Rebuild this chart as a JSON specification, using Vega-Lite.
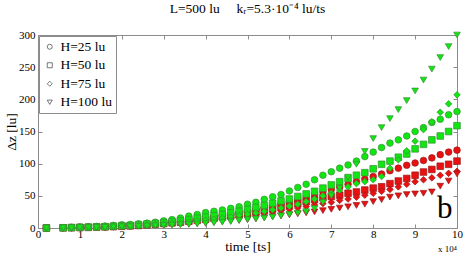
{
"$schema": "https://vega.github.io/schema/vega-lite/v6.json",
"width": 419, "height": 193,
"autosize": "none",
"padding": {"left": 38, "top": 35, "right": 6, "bottom": 25},
"background": "white",
"config": {"view": {"stroke": "#8c8c8c", "strokeWidth": 1}, "font": "Liberation Serif"},
"title": {"text": "L=500 lu\u00a0\u00a0\u00a0\u00a0\u00a0kᵣ=5.3·10⁻⁴ lu/ts", "font": "Liberation Serif", "fontSize": 13.5, "fontWeight": "normal", "color": "#000", "offset": 14, "anchor": "middle"},
"data": {"values": [
{"t":0.2,"s":"25","k":"r","v":0},{"t":0.6,"s":"25","k":"r","v":0.3},{"t":0.8,"s":"25","k":"r","v":0.6},{"t":1,"s":"25","k":"r","v":1},{"t":1.2,"s":"25","k":"r","v":1.2},{"t":1.4,"s":"25","k":"r","v":1.6},{"t":1.6,"s":"25","k":"r","v":2},{"t":1.8,"s":"25","k":"r","v":2.5},{"t":2,"s":"25","k":"r","v":3},{"t":2.2,"s":"25","k":"r","v":3.8},{"t":2.4,"s":"25","k":"r","v":4.5},{"t":2.6,"s":"25","k":"r","v":5.5},{"t":2.8,"s":"25","k":"r","v":6.5},{"t":3,"s":"25","k":"r","v":7.5},{"t":3.2,"s":"25","k":"r","v":8.5},{"t":3.4,"s":"25","k":"r","v":10},{"t":3.6,"s":"25","k":"r","v":11.5},{"t":3.8,"s":"25","k":"r","v":13},{"t":4,"s":"25","k":"r","v":15},{"t":4.2,"s":"25","k":"r","v":17},{"t":4.4,"s":"25","k":"r","v":19},{"t":4.6,"s":"25","k":"r","v":21},{"t":4.8,"s":"25","k":"r","v":23.5},{"t":5,"s":"25","k":"r","v":26},{"t":5.2,"s":"25","k":"r","v":29},{"t":5.4,"s":"25","k":"r","v":32},{"t":5.6,"s":"25","k":"r","v":35},{"t":5.8,"s":"25","k":"r","v":38},{"t":6,"s":"25","k":"r","v":41},{"t":6.2,"s":"25","k":"r","v":44},{"t":6.4,"s":"25","k":"r","v":48},{"t":6.6,"s":"25","k":"r","v":52},{"t":6.8,"s":"25","k":"r","v":56},{"t":7,"s":"25","k":"r","v":60},{"t":7.2,"s":"25","k":"r","v":64},{"t":7.4,"s":"25","k":"r","v":68},{"t":7.6,"s":"25","k":"r","v":72},{"t":7.8,"s":"25","k":"r","v":76},{"t":8,"s":"25","k":"r","v":80},{"t":8.2,"s":"25","k":"r","v":84},{"t":8.4,"s":"25","k":"r","v":89},{"t":8.6,"s":"25","k":"r","v":93},{"t":8.8,"s":"25","k":"r","v":97.5},{"t":9,"s":"25","k":"r","v":101},{"t":9.2,"s":"25","k":"r","v":105},{"t":9.4,"s":"25","k":"r","v":109},{"t":9.6,"s":"25","k":"r","v":114},{"t":9.8,"s":"25","k":"r","v":118},{"t":10,"s":"25","k":"r","v":121},
{"t":0.2,"s":"50","k":"r","v":0},{"t":0.6,"s":"50","k":"r","v":0.3},{"t":0.8,"s":"50","k":"r","v":0.5},{"t":1,"s":"50","k":"r","v":0.8},{"t":1.2,"s":"50","k":"r","v":1},{"t":1.4,"s":"50","k":"r","v":1.4},{"t":1.6,"s":"50","k":"r","v":1.8},{"t":1.8,"s":"50","k":"r","v":2.2},{"t":2,"s":"50","k":"r","v":2.7},{"t":2.2,"s":"50","k":"r","v":3.3},{"t":2.4,"s":"50","k":"r","v":4},{"t":2.6,"s":"50","k":"r","v":5},{"t":2.8,"s":"50","k":"r","v":6},{"t":3,"s":"50","k":"r","v":7},{"t":3.2,"s":"50","k":"r","v":8},{"t":3.4,"s":"50","k":"r","v":9},{"t":3.6,"s":"50","k":"r","v":10.5},{"t":3.8,"s":"50","k":"r","v":12},{"t":4,"s":"50","k":"r","v":13.5},{"t":4.2,"s":"50","k":"r","v":15},{"t":4.4,"s":"50","k":"r","v":17},{"t":4.6,"s":"50","k":"r","v":19},{"t":4.8,"s":"50","k":"r","v":21},{"t":5,"s":"50","k":"r","v":23},{"t":5.2,"s":"50","k":"r","v":25},{"t":5.4,"s":"50","k":"r","v":27.5},{"t":5.6,"s":"50","k":"r","v":30},{"t":5.8,"s":"50","k":"r","v":32.5},{"t":6,"s":"50","k":"r","v":35},{"t":6.2,"s":"50","k":"r","v":38},{"t":6.4,"s":"50","k":"r","v":41},{"t":6.6,"s":"50","k":"r","v":44},{"t":6.8,"s":"50","k":"r","v":47},{"t":7,"s":"50","k":"r","v":49},{"t":7.2,"s":"50","k":"r","v":51},{"t":7.4,"s":"50","k":"r","v":54},{"t":7.6,"s":"50","k":"r","v":56},{"t":7.8,"s":"50","k":"r","v":59},{"t":8,"s":"50","k":"r","v":62},{"t":8.2,"s":"50","k":"r","v":64},{"t":8.4,"s":"50","k":"r","v":69},{"t":8.6,"s":"50","k":"r","v":73},{"t":8.8,"s":"50","k":"r","v":77},{"t":9,"s":"50","k":"r","v":82},{"t":9.2,"s":"50","k":"r","v":87},{"t":9.4,"s":"50","k":"r","v":91},{"t":9.6,"s":"50","k":"r","v":96},{"t":9.8,"s":"50","k":"r","v":99},{"t":10,"s":"50","k":"r","v":104},
{"t":0.2,"s":"75","k":"r","v":0},{"t":0.6,"s":"75","k":"r","v":0.2},{"t":0.8,"s":"75","k":"r","v":0.4},{"t":1,"s":"75","k":"r","v":0.7},{"t":1.2,"s":"75","k":"r","v":0.9},{"t":1.4,"s":"75","k":"r","v":1.2},{"t":1.6,"s":"75","k":"r","v":1.6},{"t":1.8,"s":"75","k":"r","v":2},{"t":2,"s":"75","k":"r","v":2.4},{"t":2.2,"s":"75","k":"r","v":3},{"t":2.4,"s":"75","k":"r","v":3.6},{"t":2.6,"s":"75","k":"r","v":4.3},{"t":2.8,"s":"75","k":"r","v":5},{"t":3,"s":"75","k":"r","v":6},{"t":3.2,"s":"75","k":"r","v":7},{"t":3.4,"s":"75","k":"r","v":8},{"t":3.6,"s":"75","k":"r","v":9},{"t":3.8,"s":"75","k":"r","v":10},{"t":4,"s":"75","k":"r","v":11.5},{"t":4.2,"s":"75","k":"r","v":13},{"t":4.4,"s":"75","k":"r","v":14.5},{"t":4.6,"s":"75","k":"r","v":16},{"t":4.8,"s":"75","k":"r","v":17.5},{"t":5,"s":"75","k":"r","v":19},{"t":5.2,"s":"75","k":"r","v":21},{"t":5.4,"s":"75","k":"r","v":23},{"t":5.6,"s":"75","k":"r","v":25},{"t":5.8,"s":"75","k":"r","v":27},{"t":6,"s":"75","k":"r","v":29},{"t":6.2,"s":"75","k":"r","v":31},{"t":6.4,"s":"75","k":"r","v":33.5},{"t":6.6,"s":"75","k":"r","v":36},{"t":6.8,"s":"75","k":"r","v":38},{"t":7,"s":"75","k":"r","v":40},{"t":7.2,"s":"75","k":"r","v":43},{"t":7.4,"s":"75","k":"r","v":45},{"t":7.6,"s":"75","k":"r","v":48},{"t":7.8,"s":"75","k":"r","v":51},{"t":8,"s":"75","k":"r","v":54},{"t":8.2,"s":"75","k":"r","v":57},{"t":8.4,"s":"75","k":"r","v":60},{"t":8.6,"s":"75","k":"r","v":64},{"t":8.8,"s":"75","k":"r","v":68},{"t":9,"s":"75","k":"r","v":72},{"t":9.2,"s":"75","k":"r","v":75},{"t":9.4,"s":"75","k":"r","v":78},{"t":9.6,"s":"75","k":"r","v":82},{"t":9.8,"s":"75","k":"r","v":85},{"t":10,"s":"75","k":"r","v":88},
{"t":0.2,"s":"100","k":"r","v":0},{"t":0.6,"s":"100","k":"r","v":0.2},{"t":0.8,"s":"100","k":"r","v":0.4},{"t":1,"s":"100","k":"r","v":0.6},{"t":1.2,"s":"100","k":"r","v":0.8},{"t":1.4,"s":"100","k":"r","v":1},{"t":1.6,"s":"100","k":"r","v":1.3},{"t":1.8,"s":"100","k":"r","v":1.6},{"t":2,"s":"100","k":"r","v":2},{"t":2.2,"s":"100","k":"r","v":2.4},{"t":2.4,"s":"100","k":"r","v":2.8},{"t":2.6,"s":"100","k":"r","v":3.3},{"t":2.8,"s":"100","k":"r","v":3.8},{"t":3,"s":"100","k":"r","v":4.4},{"t":3.2,"s":"100","k":"r","v":5},{"t":3.4,"s":"100","k":"r","v":5.6},{"t":3.6,"s":"100","k":"r","v":6.3},{"t":3.8,"s":"100","k":"r","v":7},{"t":4,"s":"100","k":"r","v":8},{"t":4.2,"s":"100","k":"r","v":9},{"t":4.4,"s":"100","k":"r","v":10},{"t":4.6,"s":"100","k":"r","v":11},{"t":4.8,"s":"100","k":"r","v":12},{"t":5,"s":"100","k":"r","v":13},{"t":5.2,"s":"100","k":"r","v":14.5},{"t":5.4,"s":"100","k":"r","v":16},{"t":5.6,"s":"100","k":"r","v":17.5},{"t":5.8,"s":"100","k":"r","v":19},{"t":6,"s":"100","k":"r","v":20.5},{"t":6.2,"s":"100","k":"r","v":22},{"t":6.4,"s":"100","k":"r","v":23.5},{"t":6.6,"s":"100","k":"r","v":25},{"t":6.8,"s":"100","k":"r","v":27},{"t":7,"s":"100","k":"r","v":29},{"t":7.2,"s":"100","k":"r","v":31},{"t":7.4,"s":"100","k":"r","v":33},{"t":7.6,"s":"100","k":"r","v":35},{"t":7.8,"s":"100","k":"r","v":37},{"t":8,"s":"100","k":"r","v":41},{"t":8.2,"s":"100","k":"r","v":44},{"t":8.4,"s":"100","k":"r","v":48},{"t":8.6,"s":"100","k":"r","v":50},{"t":8.8,"s":"100","k":"r","v":52},{"t":9,"s":"100","k":"r","v":53},{"t":9.2,"s":"100","k":"r","v":54},{"t":9.4,"s":"100","k":"r","v":56},{"t":9.6,"s":"100","k":"r","v":65},{"t":9.8,"s":"100","k":"r","v":73},{"t":10,"s":"100","k":"r","v":84},
{"t":0.2,"s":"25","k":"g","v":0},{"t":0.6,"s":"25","k":"g","v":0.5},{"t":0.8,"s":"25","k":"g","v":1},{"t":1,"s":"25","k":"g","v":1.5},{"t":1.2,"s":"25","k":"g","v":2},{"t":1.4,"s":"25","k":"g","v":2.5},{"t":1.6,"s":"25","k":"g","v":3},{"t":1.8,"s":"25","k":"g","v":4},{"t":2,"s":"25","k":"g","v":5},{"t":2.2,"s":"25","k":"g","v":5.5},{"t":2.4,"s":"25","k":"g","v":6.5},{"t":2.6,"s":"25","k":"g","v":7.5},{"t":2.8,"s":"25","k":"g","v":9},{"t":3,"s":"25","k":"g","v":11},{"t":3.2,"s":"25","k":"g","v":13},{"t":3.4,"s":"25","k":"g","v":15.5},{"t":3.6,"s":"25","k":"g","v":18.5},{"t":3.8,"s":"25","k":"g","v":21},{"t":4,"s":"25","k":"g","v":24},{"t":4.2,"s":"25","k":"g","v":26},{"t":4.4,"s":"25","k":"g","v":28},{"t":4.6,"s":"25","k":"g","v":30.5},{"t":4.8,"s":"25","k":"g","v":33},{"t":5,"s":"25","k":"g","v":37},{"t":5.2,"s":"25","k":"g","v":40},{"t":5.4,"s":"25","k":"g","v":44.5},{"t":5.6,"s":"25","k":"g","v":48.5},{"t":5.8,"s":"25","k":"g","v":52},{"t":6,"s":"25","k":"g","v":57.5},{"t":6.2,"s":"25","k":"g","v":63},{"t":6.4,"s":"25","k":"g","v":68},{"t":6.6,"s":"25","k":"g","v":75},{"t":6.8,"s":"25","k":"g","v":82},{"t":7,"s":"25","k":"g","v":87.5},{"t":7.2,"s":"25","k":"g","v":93},{"t":7.4,"s":"25","k":"g","v":98},{"t":7.6,"s":"25","k":"g","v":104},{"t":7.8,"s":"25","k":"g","v":111},{"t":8,"s":"25","k":"g","v":118},{"t":8.2,"s":"25","k":"g","v":125},{"t":8.4,"s":"25","k":"g","v":132},{"t":8.6,"s":"25","k":"g","v":137},{"t":8.8,"s":"25","k":"g","v":143},{"t":9,"s":"25","k":"g","v":150},{"t":9.2,"s":"25","k":"g","v":156},{"t":9.4,"s":"25","k":"g","v":164},{"t":9.6,"s":"25","k":"g","v":169},{"t":9.8,"s":"25","k":"g","v":176},{"t":10,"s":"25","k":"g","v":181},
{"t":0.2,"s":"50","k":"g","v":0},{"t":0.6,"s":"50","k":"g","v":0.3},{"t":0.8,"s":"50","k":"g","v":0.6},{"t":1,"s":"50","k":"g","v":1},{"t":1.2,"s":"50","k":"g","v":1.3},{"t":1.4,"s":"50","k":"g","v":1.7},{"t":1.6,"s":"50","k":"g","v":2},{"t":1.8,"s":"50","k":"g","v":2.7},{"t":2,"s":"50","k":"g","v":3.5},{"t":2.2,"s":"50","k":"g","v":4},{"t":2.4,"s":"50","k":"g","v":5},{"t":2.6,"s":"50","k":"g","v":6},{"t":2.8,"s":"50","k":"g","v":7},{"t":3,"s":"50","k":"g","v":8},{"t":3.2,"s":"50","k":"g","v":9.5},{"t":3.4,"s":"50","k":"g","v":11},{"t":3.6,"s":"50","k":"g","v":13},{"t":3.8,"s":"50","k":"g","v":15},{"t":4,"s":"50","k":"g","v":17},{"t":4.2,"s":"50","k":"g","v":19},{"t":4.4,"s":"50","k":"g","v":21},{"t":4.6,"s":"50","k":"g","v":23.5},{"t":4.8,"s":"50","k":"g","v":26},{"t":5,"s":"50","k":"g","v":29},{"t":5.2,"s":"50","k":"g","v":32},{"t":5.4,"s":"50","k":"g","v":35},{"t":5.6,"s":"50","k":"g","v":38.5},{"t":5.8,"s":"50","k":"g","v":42},{"t":6,"s":"50","k":"g","v":45},{"t":6.2,"s":"50","k":"g","v":49},{"t":6.4,"s":"50","k":"g","v":53},{"t":6.6,"s":"50","k":"g","v":57},{"t":6.8,"s":"50","k":"g","v":62},{"t":7,"s":"50","k":"g","v":67},{"t":7.2,"s":"50","k":"g","v":72},{"t":7.4,"s":"50","k":"g","v":77},{"t":7.6,"s":"50","k":"g","v":82},{"t":7.8,"s":"50","k":"g","v":86},{"t":8,"s":"50","k":"g","v":92},{"t":8.2,"s":"50","k":"g","v":99},{"t":8.4,"s":"50","k":"g","v":104},{"t":8.6,"s":"50","k":"g","v":110},{"t":8.8,"s":"50","k":"g","v":115},{"t":9,"s":"50","k":"g","v":123},{"t":9.2,"s":"50","k":"g","v":130},{"t":9.4,"s":"50","k":"g","v":137},{"t":9.6,"s":"50","k":"g","v":143},{"t":9.8,"s":"50","k":"g","v":150},{"t":10,"s":"50","k":"g","v":159},
{"t":0.2,"s":"75","k":"g","v":0},{"t":0.6,"s":"75","k":"g","v":0.2},{"t":0.8,"s":"75","k":"g","v":0.5},{"t":1,"s":"75","k":"g","v":0.8},{"t":1.2,"s":"75","k":"g","v":1},{"t":1.4,"s":"75","k":"g","v":1.3},{"t":1.6,"s":"75","k":"g","v":1.6},{"t":1.8,"s":"75","k":"g","v":2},{"t":2,"s":"75","k":"g","v":2.5},{"t":2.2,"s":"75","k":"g","v":3},{"t":2.4,"s":"75","k":"g","v":3.5},{"t":2.6,"s":"75","k":"g","v":4.2},{"t":2.8,"s":"75","k":"g","v":5},{"t":3,"s":"75","k":"g","v":6},{"t":3.2,"s":"75","k":"g","v":7},{"t":3.4,"s":"75","k":"g","v":8},{"t":3.6,"s":"75","k":"g","v":9.5},{"t":3.8,"s":"75","k":"g","v":11},{"t":4,"s":"75","k":"g","v":12},{"t":4.2,"s":"75","k":"g","v":13.5},{"t":4.4,"s":"75","k":"g","v":15},{"t":4.6,"s":"75","k":"g","v":17},{"t":4.8,"s":"75","k":"g","v":19.5},{"t":5,"s":"75","k":"g","v":21.5},{"t":5.2,"s":"75","k":"g","v":23.5},{"t":5.4,"s":"75","k":"g","v":26},{"t":5.6,"s":"75","k":"g","v":28.5},{"t":5.8,"s":"75","k":"g","v":31},{"t":6,"s":"75","k":"g","v":34},{"t":6.2,"s":"75","k":"g","v":37},{"t":6.4,"s":"75","k":"g","v":41},{"t":6.6,"s":"75","k":"g","v":45},{"t":6.8,"s":"75","k":"g","v":50},{"t":7,"s":"75","k":"g","v":54},{"t":7.2,"s":"75","k":"g","v":59},{"t":7.4,"s":"75","k":"g","v":64},{"t":7.6,"s":"75","k":"g","v":69},{"t":7.8,"s":"75","k":"g","v":72},{"t":8,"s":"75","k":"g","v":75},{"t":8.2,"s":"75","k":"g","v":80},{"t":8.4,"s":"75","k":"g","v":93},{"t":8.6,"s":"75","k":"g","v":106},{"t":8.8,"s":"75","k":"g","v":120},{"t":9,"s":"75","k":"g","v":135},{"t":9.2,"s":"75","k":"g","v":153},{"t":9.4,"s":"75","k":"g","v":165},{"t":9.6,"s":"75","k":"g","v":180},{"t":9.8,"s":"75","k":"g","v":193},{"t":10,"s":"75","k":"g","v":207},
{"t":0.2,"s":"100","k":"g","v":0},{"t":0.6,"s":"100","k":"g","v":0.2},{"t":0.8,"s":"100","k":"g","v":0.3},{"t":1,"s":"100","k":"g","v":0.5},{"t":1.2,"s":"100","k":"g","v":0.7},{"t":1.4,"s":"100","k":"g","v":1},{"t":1.6,"s":"100","k":"g","v":1.2},{"t":1.8,"s":"100","k":"g","v":1.5},{"t":2,"s":"100","k":"g","v":2},{"t":2.2,"s":"100","k":"g","v":2.3},{"t":2.4,"s":"100","k":"g","v":2.7},{"t":2.6,"s":"100","k":"g","v":3},{"t":2.8,"s":"100","k":"g","v":3.5},{"t":3,"s":"100","k":"g","v":4},{"t":3.2,"s":"100","k":"g","v":4.5},{"t":3.4,"s":"100","k":"g","v":5},{"t":3.6,"s":"100","k":"g","v":5.5},{"t":3.8,"s":"100","k":"g","v":6.2},{"t":4,"s":"100","k":"g","v":7},{"t":4.2,"s":"100","k":"g","v":8},{"t":4.4,"s":"100","k":"g","v":9},{"t":4.6,"s":"100","k":"g","v":10},{"t":4.8,"s":"100","k":"g","v":11.5},{"t":5,"s":"100","k":"g","v":13},{"t":5.2,"s":"100","k":"g","v":14},{"t":5.4,"s":"100","k":"g","v":15.5},{"t":5.6,"s":"100","k":"g","v":17},{"t":5.8,"s":"100","k":"g","v":19},{"t":6,"s":"100","k":"g","v":21},{"t":6.2,"s":"100","k":"g","v":23},{"t":6.4,"s":"100","k":"g","v":25.5},{"t":6.6,"s":"100","k":"g","v":30},{"t":6.8,"s":"100","k":"g","v":40},{"t":7,"s":"100","k":"g","v":50},{"t":7.2,"s":"100","k":"g","v":62},{"t":7.4,"s":"100","k":"g","v":79},{"t":7.6,"s":"100","k":"g","v":99},{"t":7.8,"s":"100","k":"g","v":119},{"t":8,"s":"100","k":"g","v":139},{"t":8.2,"s":"100","k":"g","v":156},{"t":8.4,"s":"100","k":"g","v":170},{"t":8.6,"s":"100","k":"g","v":184},{"t":8.8,"s":"100","k":"g","v":198},{"t":9,"s":"100","k":"g","v":213},{"t":9.2,"s":"100","k":"g","v":230},{"t":9.4,"s":"100","k":"g","v":247},{"t":9.6,"s":"100","k":"g","v":265},{"t":9.8,"s":"100","k":"g","v":282},{"t":10,"s":"100","k":"g","v":300}
]},
"layer": [
{"mark": {"type": "point", "filled": true, "size": 44, "strokeWidth": 0.7, "opacity": 1, "clip": false},
 "encoding": {
  "x": {"field": "t", "type": "quantitative", "scale": {"domain": [0, 10], "nice": false, "zero": false},
        "axis": {"values": [0,1,2,3,4,5,6,7,8,9,10], "title": "time [ts]", "titleFont": "Liberation Serif", "titleFontSize": 13.5, "titleFontWeight": "normal", "titleColor": "#000", "titlePadding": 0,
                 "labelFont": "Liberation Serif", "labelFontSize": 11, "labelColor": "#000", "labelPadding": 4, "tickSize": -4, "tickColor": "#8c8c8c", "domainColor": "#8c8c8c", "grid": false, "labelFlush": false}},
  "y": {"field": "v", "type": "quantitative", "scale": {"domain": [0, 300], "nice": false},
        "axis": {"values": [0,50,100,150,200,250,300], "title": "Δz [lu]", "titleFont": "Liberation Serif", "titleFontSize": 13.5, "titleFontWeight": "normal", "titleColor": "#000", "titlePadding": 0,
                 "labelFont": "Liberation Serif", "labelFontSize": 11, "labelColor": "#000", "labelPadding": 7, "tickSize": -4, "tickColor": "#8c8c8c", "domainColor": "#8c8c8c", "grid": false}},
  "shape": {"field": "s", "type": "nominal", "scale": {"domain": ["25","50","75","100"], "range": ["circle","square","diamond","triangle-down"]},
        "legend": {"title": null, "orient": "top-left", "offset": 1, "padding": 4, "strokeColor": "#8c8c8c", "fillColor": "white",
                   "labelFont": "Liberation Serif", "labelFontSize": 13.5, "labelColor": "#000", "labelExpr": "'H=' + datum.label + ' lu'",
                   "symbolSize": 25, "rowPadding": 3.5, "labelOffset": 4, "symbolFillColor": "transparent", "symbolStrokeColor": "#555", "symbolStrokeWidth": 0.8,
                   "encode": {"symbols": {"update": {"fill": {"value": "transparent"}, "stroke": {"value": "#555"}, "strokeWidth": {"value": 0.8}}}}}},
  "fill": {"field": "k", "type": "nominal", "scale": {"domain": ["r","g"], "range": ["#e81010","#10e610"]}, "legend": null},
  "stroke": {"field": "k", "type": "nominal", "scale": {"domain": ["r","g"], "range": ["#9a1a1a","#3a8f3a"]}, "legend": null}
 }},
{"mark": {"type": "point", "opacity": 0},
 "encoding": {
  "x": {"field": "t", "type": "quantitative", "axis": {"orient": "top", "values": [0,1,2,3,4,5,6,7,8,9,10], "labels": false, "title": null, "tickSize": -4, "tickColor": "#8c8c8c", "domain": false, "grid": false}},
  "y": {"field": "v", "type": "quantitative", "axis": {"orient": "right", "values": [0,50,100,150,200,250,300], "labels": false, "title": null, "tickSize": -4, "tickColor": "#8c8c8c", "domain": false, "grid": false}}
 }},
{"data": {"values": [{"t": 9.71, "v": 15, "txt": "b"}]},
 "mark": {"type": "text", "font": "Liberation Serif", "fontSize": 31, "align": "center", "baseline": "alphabetic", "color": "#000"},
 "encoding": {"x": {"field": "t", "type": "quantitative", "axis": null}, "y": {"field": "v", "type": "quantitative", "axis": null}, "text": {"field": "txt"}}},
{"data": {"values": [{"t": 10, "v": -37, "txt": "x 10⁴"}]},
 "mark": {"type": "text", "font": "Liberation Serif", "fontSize": 9, "align": "right", "baseline": "alphabetic", "color": "#000", "clip": false},
 "encoding": {"x": {"field": "t", "type": "quantitative", "axis": null}, "y": {"field": "v", "type": "quantitative", "axis": null}, "text": {"field": "txt"}}}
],
"resolve": {"axis": {"x": "independent", "y": "independent"}}
}
